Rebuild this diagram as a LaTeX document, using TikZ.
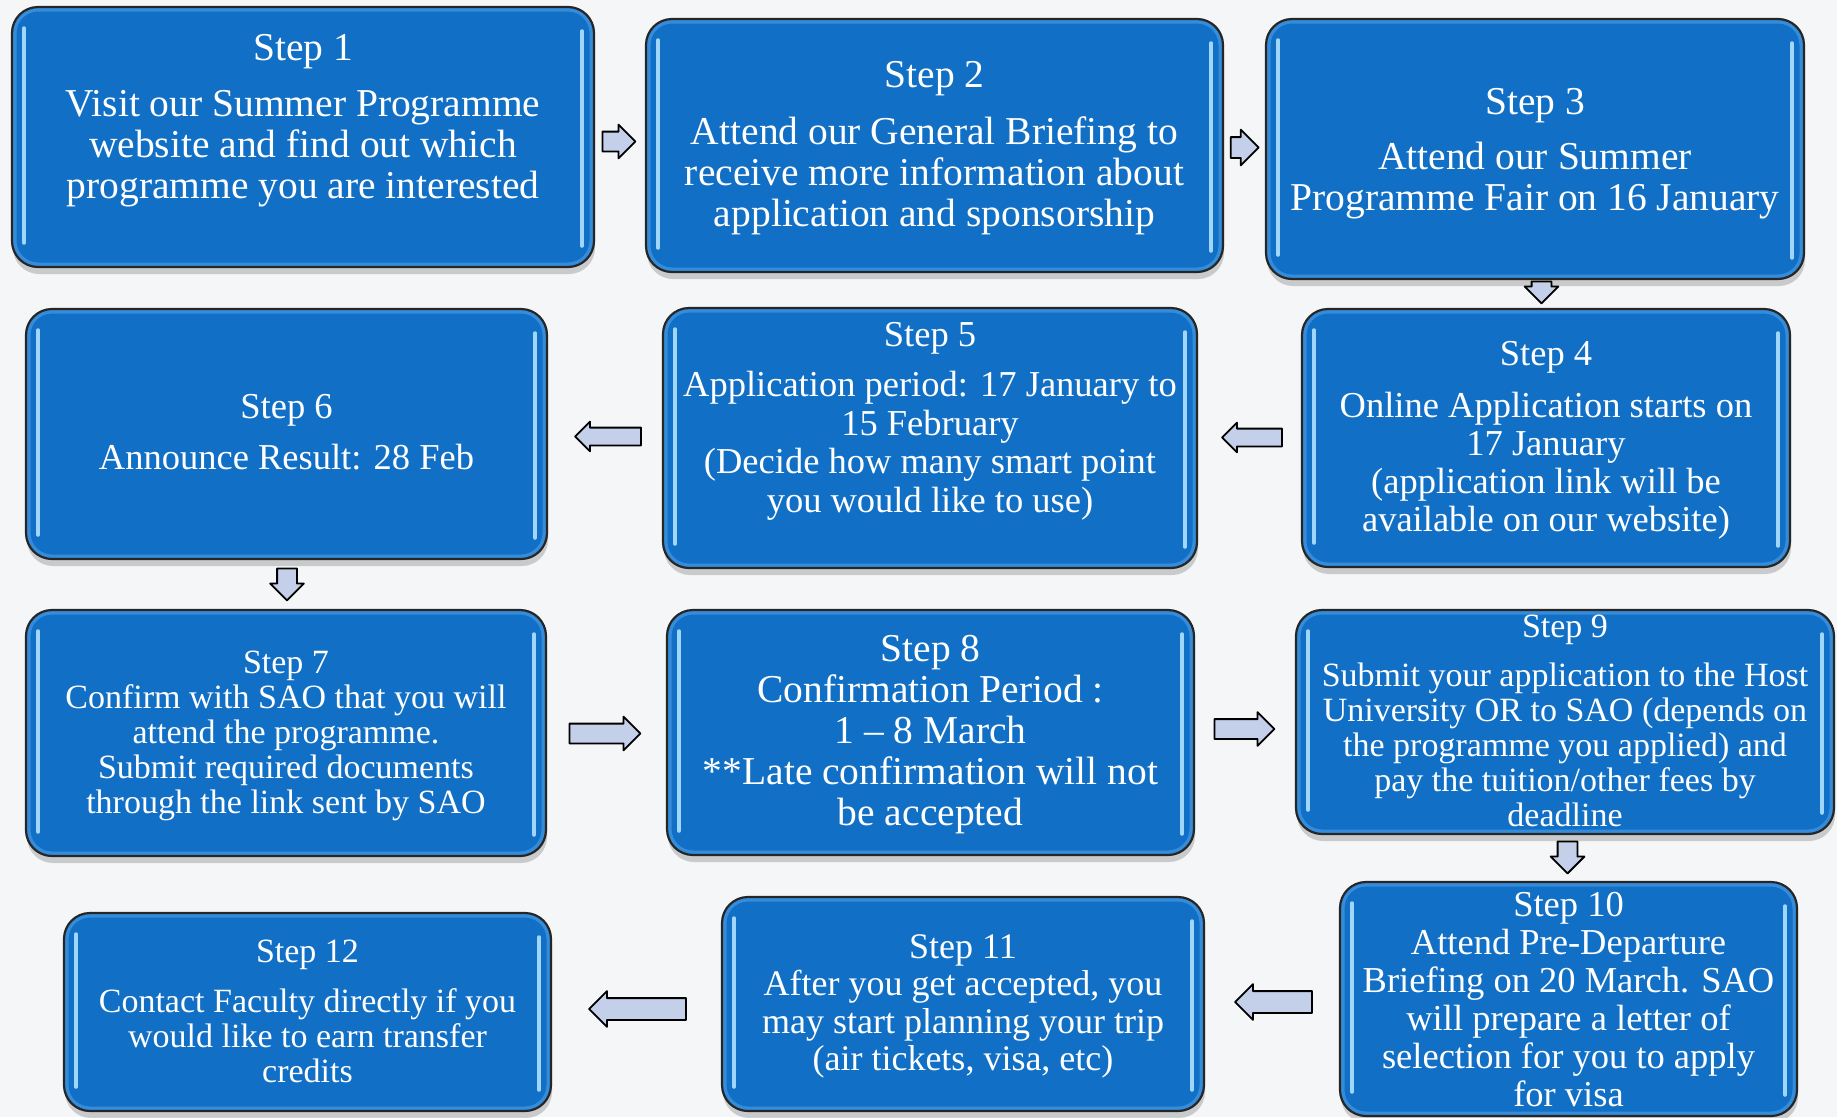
\documentclass[tikz,border=0pt]{standalone}
\usepackage{fontspec}
\setmainfont{Liberation Serif}
\usetikzlibrary{shapes.arrows,shadows,calc}
\definecolor{boxblue}{RGB}{17,112,198}
\definecolor{boxlight}{RGB}{52,140,218}
\definecolor{hlblue}{RGB}{160,214,250}
\definecolor{arrowfill}{RGB}{196,207,234}
\definecolor{bgcol}{RGB}{245,246,248}
\tikzset{
  stepbox/.style={draw=black!85, line width=2.2pt, fill=boxblue, rounded corners=26pt,
    drop shadow={shadow xshift=1pt, shadow yshift=-7pt, opacity=0.3, fill=black!60},
    path picture={
      \draw[boxlight, line width=9pt, rounded corners=26pt]
        (path picture bounding box.north west) rectangle (path picture bounding box.south east);
      \draw[hlblue, line width=3.5pt, line cap=round]
        ([xshift=12pt,yshift=-21pt]path picture bounding box.north west) --
        ([xshift=12pt,yshift=24pt]path picture bounding box.south west);
      \draw[hlblue, line width=3.5pt, line cap=round]
        ([xshift=-12pt,yshift=-24pt]path picture bounding box.north east) --
        ([xshift=-12pt,yshift=21pt]path picture bounding box.south east);
    }},
  steptext/.style={text=white, align=center, inner sep=0pt},
  blockarrow/.style={single arrow, draw=black, line width=1.8pt, fill=arrowfill,
    line join=round, single arrow head extend=7pt, inner xsep=0pt, inner ysep=9pt},
  slimarrow/.style={single arrow head extend=6pt, inner ysep=8pt},
  leftarrow/.style={rotate=180},
  downarrow/.style={rotate=-90},
}
\begin{document}
\begin{tikzpicture}[x=1pt,y=-1pt]
\useasboundingbox (0,0) rectangle (1837,1117);
\fill[bgcol] (0,0) rectangle (1837,1117);

% boxes
\node[stepbox, minimum width=582pt, minimum height=260pt] (s1) at (303,137) {};
\node[stepbox, minimum width=577pt, minimum height=253pt] (s2) at (934.5,145.5) {};
\node[stepbox, minimum width=538pt, minimum height=260pt] (s3) at (1535,149) {};
\node[stepbox, minimum width=488pt, minimum height=258pt] (s4) at (1546,438) {};
\node[stepbox, minimum width=534pt, minimum height=260pt] (s5) at (930,438) {};
\node[stepbox, minimum width=521pt, minimum height=250pt] (s6) at (286.5,434) {};
\node[stepbox, minimum width=520pt, minimum height=246pt] (s7) at (286,733) {};
\node[stepbox, minimum width=527pt, minimum height=245pt] (s8) at (930.5,732.5) {};
\node[stepbox, minimum width=538pt, minimum height=224pt] (s9) at (1565,722) {};
\node[stepbox, minimum width=457pt, minimum height=234pt] (s10) at (1568.5,999) {};
\node[stepbox, minimum width=482pt, minimum height=214pt] (s11) at (963,1004) {};
\node[stepbox, minimum width=487pt, minimum height=198pt] (s12) at (307.5,1012) {};

% texts
\node[steptext, font=\fontsize{39.5}{41}\selectfont] (t1) at (303,121)
  {Step 1\\[15pt]Visit our Summer Programme\\website and find out which\\programme you are interested};
\node[steptext, font=\fontsize{39.5}{41}\selectfont] (t2) at (934.5,148.5)
  {Step 2\\[16pt]Attend our General Briefing to\\receive more information about\\application and sponsorship};
\node[steptext, font=\fontsize{39.5}{41}\selectfont] (t3) at (1535,154)
  {Step 3\\[14pt]Attend our Summer\\Programme Fair on 16 January};
\node[steptext, font=\fontsize{36.5}{38}\selectfont] (t4) at (1546,440)
  {Step 4\\[14pt]Online Application starts on\\17 January\\(application link will be\\available on our website)};
\node[steptext, font=\fontsize{36.5}{38.5}\selectfont] (t5) at (930,421)
  {Step 5\\[12pt]Application period: 17 January to\\15 February\\(Decide how many smart point\\you would like to use)};
\node[steptext, font=\fontsize{36.5}{38.5}\selectfont] (t6) at (286.5,432)
  {Step 6\\[12pt]Announce Result: 28 Feb};
\node[steptext, font=\fontsize{34}{35}\selectfont] (t7) at (286,735.5)
  {Step 7\\Confirm with SAO that you will\\attend the programme.\\Submit required documents\\through the link sent by SAO};
\node[steptext, font=\fontsize{39.5}{41}\selectfont] (t8) at (930.5,735)
  {Step 8\\Confirmation Period :\\1 -- 8 March\\**Late confirmation will not\\be accepted};
\node[steptext, font=\fontsize{34}{35}\selectfont] (t9) at (1565,721)
  {Step 9\\[14pt]Submit your application to the Host\\University OR to SAO (depends on\\the programme you applied) and\\pay the tuition/other fees by\\deadline};
\node[steptext, font=\fontsize{36.5}{38}\selectfont] (t10) at (1568.5,1000)
  {Step 10\\Attend Pre-Departure\\Briefing on 20 March. SAO\\will prepare a letter of\\selection for you to apply\\for visa};
\node[steptext, font=\fontsize{36}{37.5}\selectfont] (t11) at (963,1006.5)
  {Step 11\\After you get accepted, you\\may start planning your trip\\(air tickets, visa, etc)};
\node[steptext, font=\fontsize{34}{35}\selectfont] (t12) at (307.5,1011)
  {Step 12\\[15pt]Contact Faculty directly if you\\would like to earn transfer\\credits};

% block arrows
\node[blockarrow, minimum height=33pt] (a12) at (614,141.5) {};
\node[blockarrow, minimum height=28pt, single arrow head extend=7.5pt, inner ysep=9.5pt] (a23) at (1239.5,147.5) {};
\node[blockarrow, downarrow, minimum height=22pt] (a34) at (1541.5,287.5) {};
\node[blockarrow, slimarrow, leftarrow, minimum height=60pt] (a45) at (1256.5,437.5) {};
\node[blockarrow, slimarrow, leftarrow, minimum height=66pt] (a56) at (612.5,436.5) {};
\node[blockarrow, downarrow, minimum height=32pt] (a67) at (287,579.5) {};
\node[blockarrow, minimum height=71pt] (a78) at (600,733.5) {};
\node[blockarrow, minimum height=60pt] (a89) at (1239.5,729) {};
\node[blockarrow, downarrow, minimum height=32pt] (a910) at (1567.5,852.5) {};
\node[blockarrow, leftarrow, minimum height=77pt, inner ysep=10pt] (a1011) at (1279,1002) {};
\node[blockarrow, leftarrow, minimum height=97pt, inner ysep=10pt] (a1112) at (643,1009) {};
\end{tikzpicture}
\end{document}
